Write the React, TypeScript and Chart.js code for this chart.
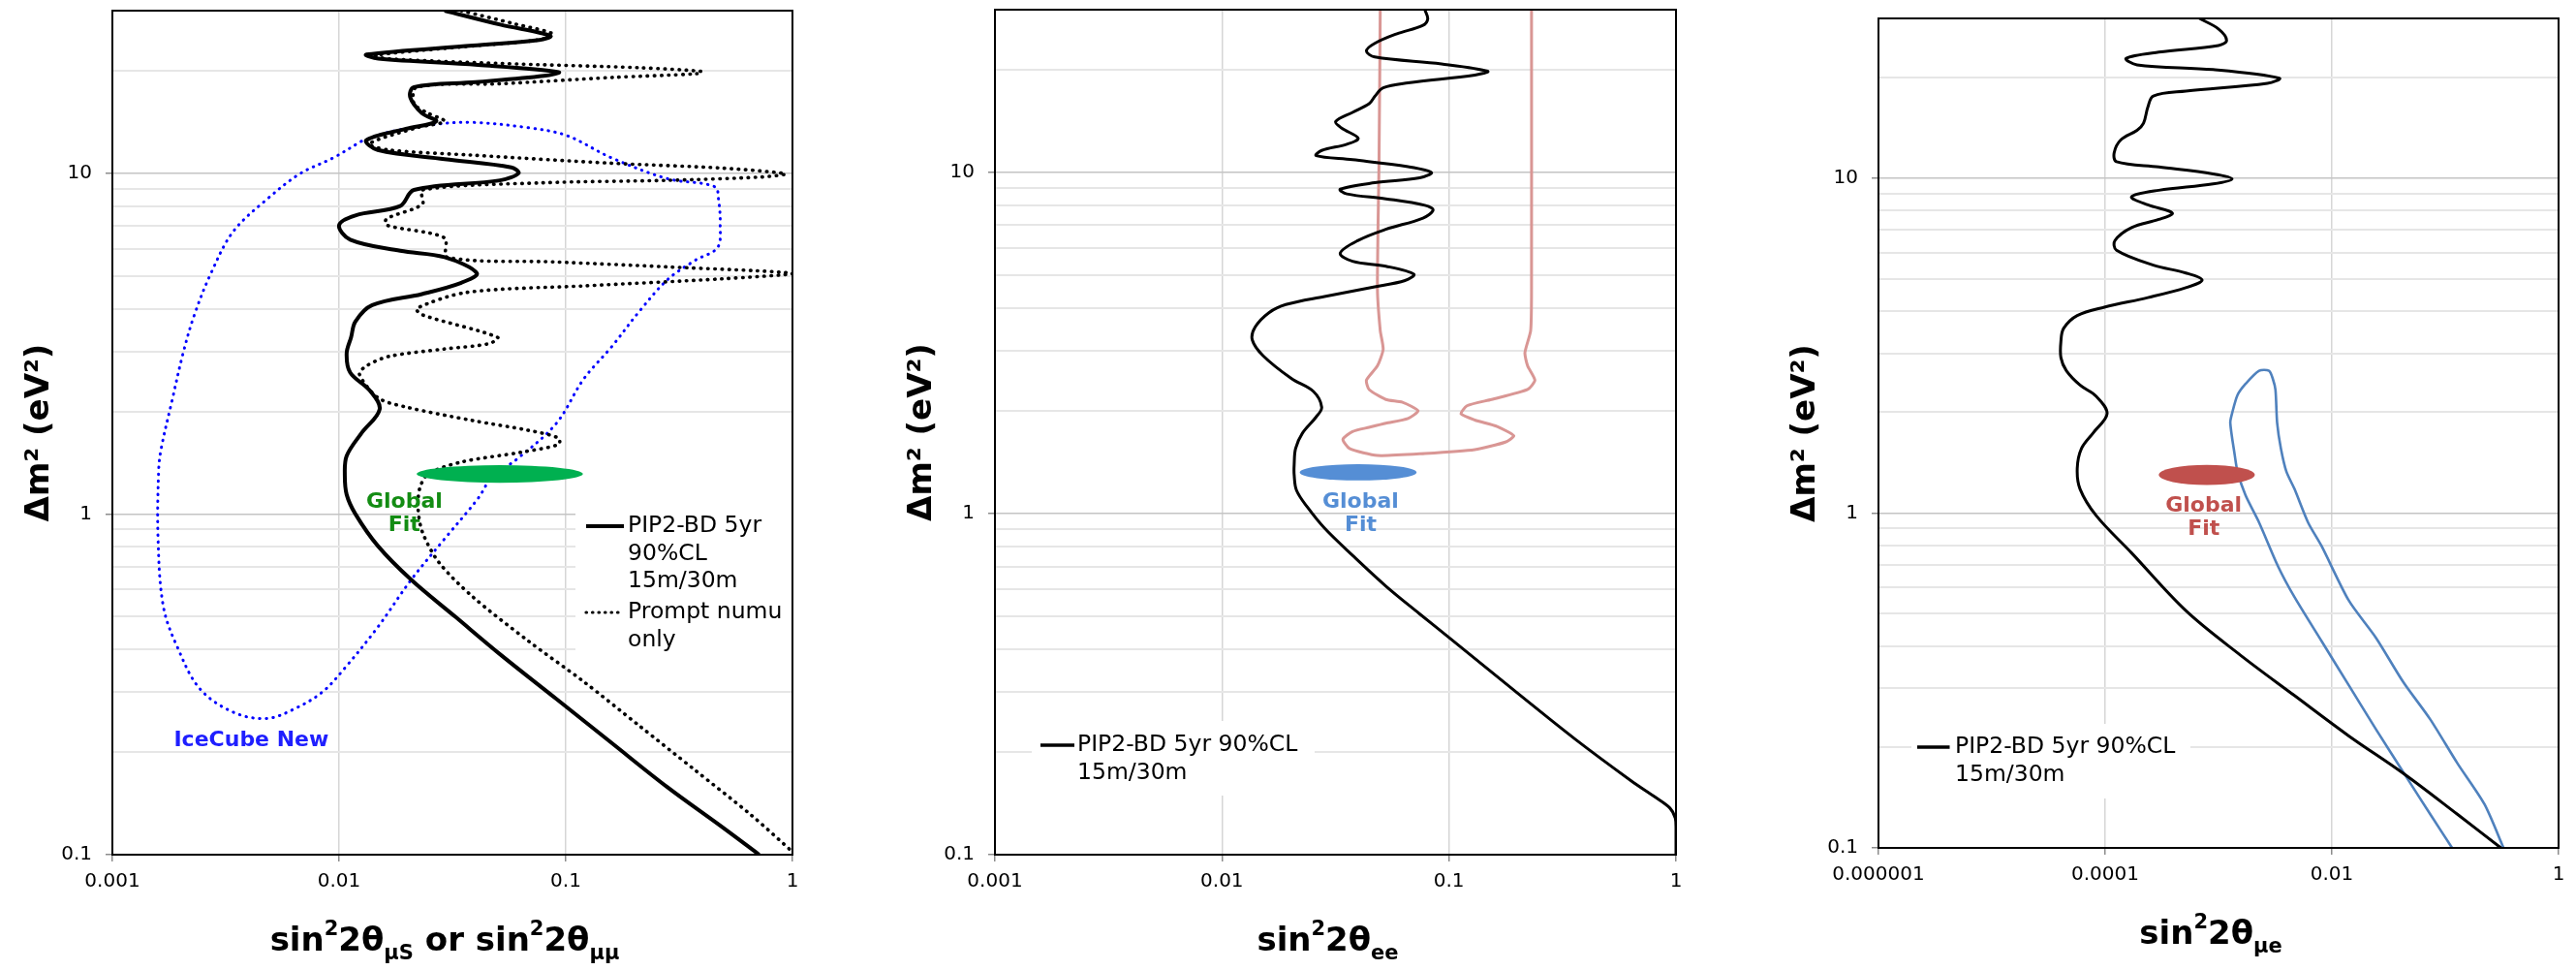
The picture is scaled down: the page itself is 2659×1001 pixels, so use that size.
import React, { useEffect, useRef } from "react";
import { Chart, registerables } from "chart.js";

Chart.register(...registerables);

type Pt = [number, number];

// ---------------- axis values ----------------
const Y_MIN = 0.1;
const Y_MAX = 30;
const Y_GRID_VALUES = [0.1, 0.2, 0.3, 0.4, 0.5, 0.6, 0.7, 0.8, 0.9, 1, 2, 3, 4, 5, 6, 7, 8, 9, 10, 20, 30];
const Y_TICK_VALUES = [0.1, 1, 10];
const Y_TICK_LABELS = ["0.1", "1", "10"];
const Y_TITLE = "Δm² (eV²)";

const X_TICKS_DECADE = [0.001, 0.01, 0.1, 1];
const X_LABELS_DECADE = ["0.001", "0.01", "0.1", "1"];
const X_TICKS_MUE = [0.000001, 0.0001, 0.01, 1];
const X_LABELS_MUE = ["0.000001", "0.0001", "0.01", "1"];

// ---------------- panel 1 : numu disappearance ----------------
const MU_PIP2: Pt[] = [
  [0.0292, 30], [0.0514, 27.3], [0.0855, 25.3], [0.0764, 24.6], [0.0388, 23.7], [0.0132, 22.3],
  [0.0149, 21.7], [0.041, 20.8], [0.093, 19.8], [0.08, 19.3], [0.04, 18.5], [0.0214, 17.9],
  [0.0206, 16.7], [0.0232, 15.0], [0.0268, 14.2], [0.0197, 13.5], [0.0132, 12.5], [0.0148, 11.7],
  [0.0292, 11.0], [0.0575, 10.4], [0.0619, 10.0], [0.0513, 9.53], [0.0214, 8.93], [0.0186, 8.01],
  [0.0118, 7.52], [0.01, 7.04], [0.0112, 6.38], [0.0186, 5.92], [0.0292, 5.67], [0.0405, 5.09],
  [0.0346, 4.77], [0.0232, 4.42], [0.014, 4.1], [0.0118, 3.67], [0.0113, 3.3], [0.0108, 2.96],
  [0.0112, 2.6], [0.0136, 2.31], [0.0151, 2.03], [0.0125, 1.72], [0.0108, 1.48], [0.0106, 1.3],
  [0.0108, 1.14], [0.0118, 1.0], [0.0148, 0.807], [0.0208, 0.641], [0.0327, 0.498], [0.0514, 0.387],
  [0.0906, 0.287], [0.159, 0.213], [0.28, 0.158], [0.494, 0.12], [0.713, 0.1],
];

const MU_PROMPT: Pt[] = [
  [0.0346, 30], [0.06, 27.4], [0.088, 25.6], [0.075, 24.6], [0.035, 23.5], [0.0145, 22.2],
  [0.016, 21.7], [0.0514, 21.0], [0.211, 20.4], [0.398, 19.9], [0.38, 19.6], [0.159, 19.1],
  [0.0514, 18.3], [0.022, 17.9], [0.0214, 16.0], [0.0247, 15.0], [0.0292, 14.2], [0.022, 13.6],
  [0.0136, 12.2], [0.0166, 11.7], [0.0388, 11.3], [0.159, 10.7], [0.493, 10.35], [0.93, 9.96],
  [0.733, 9.75], [0.281, 9.53], [0.0785, 9.37], [0.0233, 8.93], [0.0233, 8.11], [0.0162, 7.35],
  [0.0162, 7.04], [0.0292, 6.46], [0.03, 5.67], [0.0906, 5.49], [0.281, 5.31], [1.0, 5.08],
  [0.493, 4.9], [0.12, 4.67], [0.0366, 4.47], [0.022, 4.01], [0.0233, 3.84], [0.05, 3.3],
  [0.0458, 3.16], [0.0292, 3.05], [0.0166, 2.9], [0.0132, 2.72], [0.0123, 2.57], [0.0149, 2.19],
  [0.0197, 2.06], [0.0388, 1.88], [0.0683, 1.76], [0.093, 1.67], [0.093, 1.6], [0.0645, 1.52],
  [0.0346, 1.42], [0.0247, 1.31], [0.0227, 1.19], [0.0223, 1.04], [0.0233, 0.885], [0.0276, 0.72],
  [0.0388, 0.572], [0.0683, 0.424], [0.12, 0.322], [0.211, 0.239], [0.372, 0.177], [0.655, 0.131],
  [1.0, 0.102],
];

const ICECUBE: Pt[] = [
  [0.0125, 12.4], [0.0166, 13.2], [0.0261, 13.9], [0.0388, 14.1], [0.0683, 13.6], [0.101, 12.9],
  [0.159, 11.1], [0.281, 9.64], [0.454, 9.13], [0.472, 8.37], [0.48, 7.04], [0.467, 6.05],
  [0.372, 5.55], [0.281, 4.87], [0.211, 3.93], [0.159, 3.09], [0.12, 2.49], [0.0906, 1.84],
  [0.061, 1.45], [0.0472, 1.28], [0.041, 1.11], [0.0292, 0.845], [0.0208, 0.641], [0.0148, 0.465],
  [0.0106, 0.353], [0.00843, 0.3], [0.00636, 0.268], [0.00479, 0.251], [0.00341, 0.262],
  [0.00243, 0.307], [0.00194, 0.405], [0.00168, 0.533], [0.00159, 0.845], [0.0016, 1.34],
  [0.00164, 1.55], [0.00183, 2.14], [0.00205, 2.96], [0.0023, 3.84], [0.00272, 5.08],
  [0.00341, 6.74], [0.00479, 8.37], [0.00671, 9.96], [0.00943, 11.1], [0.0125, 12.4],
];

// ---------------- panel 2 : nue disappearance ----------------
const EE_PIP2: Pt[] = [
  [0.0783, 30], [0.0806, 28.2], [0.0768, 27.0], [0.059, 25.5], [0.0471, 23.9], [0.0433, 22.7],
  [0.0471, 21.8], [0.0927, 20.8], [0.148, 19.8], [0.13, 19.3], [0.066, 18.3], [0.0513, 17.7],
  [0.0471, 16.7], [0.0445, 15.9], [0.0376, 15.0], [0.0317, 14.1], [0.0336, 13.5], [0.0398, 12.6],
  [0.0355, 12.1], [0.0275, 11.6], [0.026, 11.2], [0.0376, 10.9], [0.066, 10.4], [0.0837, 10.0],
  [0.0743, 9.64], [0.0471, 9.33], [0.0332, 8.93], [0.0355, 8.65], [0.0527, 8.37], [0.0783, 8.01],
  [0.0851, 7.76], [0.0768, 7.35], [0.0527, 6.81], [0.0398, 6.32], [0.0332, 5.8], [0.0376, 5.49],
  [0.0527, 5.31], [0.07, 5.03], [0.064, 4.82], [0.0471, 4.62], [0.0283, 4.33], [0.0191, 4.1],
  [0.0161, 3.88], [0.014, 3.52], [0.0136, 3.23], [0.0152, 2.9], [0.0202, 2.49], [0.0253, 2.28],
  [0.0275, 2.05], [0.026, 1.92], [0.0226, 1.72], [0.0211, 1.55], [0.0208, 1.39], [0.0208, 1.3],
  [0.0213, 1.17], [0.0239, 1.04], [0.0283, 0.906], [0.0376, 0.754], [0.0527, 0.613], [0.074, 0.509],
  [0.104, 0.424], [0.205, 0.294], [0.36, 0.218], [0.632, 0.165], [0.815, 0.147], [0.94, 0.137],
  [0.993, 0.128], [1.0, 0.12], [1.0, 0.1],
];

const EE_REGION: Pt[] = [
  [0.0498, 30], [0.0492, 10.9], [0.0484, 4.56], [0.0498, 3.44], [0.0513, 3.03], [0.0484, 2.71],
  [0.0433, 2.46], [0.0445, 2.31], [0.0527, 2.16], [0.0624, 2.12], [0.0731, 2.0], [0.066, 1.9],
  [0.0527, 1.84], [0.0445, 1.79], [0.0376, 1.74], [0.0341, 1.65], [0.0365, 1.55], [0.0484, 1.48],
  [0.0783, 1.5], [0.13, 1.54], [0.177, 1.62], [0.193, 1.69], [0.163, 1.8], [0.13, 1.88],
  [0.113, 1.96], [0.12, 2.07], [0.154, 2.16], [0.222, 2.31], [0.239, 2.46], [0.222, 2.71],
  [0.216, 2.96], [0.229, 3.44], [0.231, 4.56], [0.231, 30],
];

// ---------------- panel 3 : numu -> nue appearance ----------------
const MUE_PIP2: Pt[] = [
  [0.000679, 30], [0.000998, 27.9], [0.001178, 25.8], [0.000998, 24.9], [0.000297, 23.8],
  [0.000153, 22.8], [0.000191, 21.8], [0.000895, 21.1], [0.00344, 19.9], [0.0027, 19.2],
  [0.000515, 18.2], [0.000266, 17.6], [0.000238, 16.3], [0.000218, 14.6], [0.000191, 13.9],
  [0.000137, 13.0], [0.00012, 11.9], [0.000126, 11.2], [0.000297, 10.8], [0.000895, 10.3],
  [0.001316, 9.95], [0.000895, 9.62], [0.000297, 9.2], [0.000171, 8.8], [0.000238, 8.32],
  [0.000391, 7.87], [0.000297, 7.53], [0.000171, 7.12], [0.000122, 6.51], [0.000126, 6.09],
  [0.000266, 5.5], [0.000515, 5.21], [0.000717, 4.96], [0.000515, 4.71], [0.000238, 4.4],
  [0.0000984, 4.12], [0.0000567, 3.89], [0.000043, 3.56], [0.0000407, 3.26], [0.0000407, 2.91],
  [0.0000455, 2.66], [0.00006, 2.41], [0.0000834, 2.23], [0.000104, 1.98], [0.0000789, 1.74],
  [0.0000619, 1.56], [0.0000567, 1.36], [0.00006, 1.18], [0.0000834, 0.982], [0.000171, 0.76],
  [0.000515, 0.511], [0.00155, 0.377], [0.00468, 0.285], [0.0141, 0.216], [0.0426, 0.167],
  [0.128, 0.126], [0.31, 0.1],
];

const MUE_REGION: Pt[] = [
  [0.115, 0.1], [0.0738, 0.126], [0.0475, 0.159], [0.0245, 0.226], [0.0141, 0.306], [0.00813, 0.414],
  [0.00468, 0.561], [0.00336, 0.692], [0.00228, 0.937], [0.00173, 1.13], [0.00147, 1.33],
  [0.00139, 1.49], [0.00127, 1.86], [0.00132, 1.99], [0.00147, 2.25], [0.00173, 2.43],
  [0.00228, 2.66], [0.00279, 2.66], [0.00301, 2.52], [0.00318, 2.33], [0.00329, 1.86],
  [0.00355, 1.56], [0.00397, 1.33], [0.00468, 1.18], [0.00617, 0.937], [0.00813, 0.796],
  [0.0141, 0.548], [0.0245, 0.424], [0.0426, 0.313], [0.0738, 0.242], [0.128, 0.179],
  [0.222, 0.135], [0.327, 0.1],
];

// global-fit ellipses: [xMin, xMax, yMin, yMax]
const FIT_MU = [0.022, 0.119, 1.235, 1.39];
const FIT_EE = [0.022, 0.072, 1.25, 1.395];
const FIT_MUE = [0.000297, 0.00209, 1.213, 1.393];

// ---------------- rendering ----------------
const FONT = '"DejaVu Sans", Verdana, sans-serif';
const H = 1001;

type Series = { points: Pt[]; color: string; width: number; dash: number[]; tension: number };
type TitlePart = { t: string; k: "n" | "sup" | "sub" };
type Spec = {
  canvasLeft: number; canvasWidth: number;
  areaLeft: number; areaRight: number; areaTop: number; areaBottom: number;
  xMin: number; xTicks: number[]; xLabels: string[];
  series: Series[];
  xTitle: TitlePart[];
  ellipse: { v: number[]; color: string };
  labels: { x: number; y: number; lines: string[]; color: string; size: number; lh: number }[];
  legend: {
    box: number[]; sample: number[]; textX: number; size: number; lh: number;
    items: { y: number; color: string; width: number; dash: number[]; lines: string[] }[];
  };
};

const near = (a: number, b: number) => Math.abs(Math.log10(a) - Math.log10(b)) < 1e-6;

function makePlugin(s: Spec) {
  return {
    id: "panelDecor",
    afterDatasetsDraw(chart: any) {
      const { ctx, chartArea: a, scales } = chart;
      const xs = scales.x, ys = scales.y;
      ctx.save();
      // ellipse
      const [ex0, ex1, ey0, ey1] = s.ellipse.v;
      const px0 = xs.getPixelForValue(ex0), px1 = xs.getPixelForValue(ex1);
      const py0 = ys.getPixelForValue(ey0), py1 = ys.getPixelForValue(ey1);
      ctx.beginPath();
      ctx.ellipse((px0 + px1) / 2, (py0 + py1) / 2, Math.abs(px1 - px0) / 2, Math.abs(py1 - py0) / 2, 0, 0, Math.PI * 2);
      ctx.fillStyle = s.ellipse.color;
      ctx.fill();
      // labels
      for (const l of s.labels) {
        ctx.font = `bold ${l.size}px ${FONT}`;
        ctx.fillStyle = l.color;
        ctx.textAlign = "center";
        ctx.textBaseline = "middle";
        const cx = xs.getPixelForValue(l.x), cy = ys.getPixelForValue(l.y);
        const n = l.lines.length;
        l.lines.forEach((t, i) => ctx.fillText(t, cx, cy + (i - (n - 1) / 2) * l.lh));
      }
      // legend
      const lg = s.legend;
      ctx.fillStyle = "#ffffff";
      ctx.fillRect(a.left + lg.box[0], a.top + lg.box[1], lg.box[2] - lg.box[0], lg.box[3] - lg.box[1]);
      ctx.font = `${lg.size}px ${FONT}`;
      ctx.textAlign = "left";
      ctx.textBaseline = "middle";
      for (const it of lg.items) {
        const y = a.top + it.y;
        ctx.beginPath();
        ctx.moveTo(a.left + lg.sample[0], y);
        ctx.lineTo(a.left + lg.sample[1], y);
        ctx.strokeStyle = it.color;
        ctx.lineWidth = it.width;
        ctx.setLineDash(it.dash);
        ctx.lineCap = it.dash.length ? "round" : "butt";
        ctx.stroke();
        ctx.setLineDash([]);
        ctx.fillStyle = "#000000";
        it.lines.forEach((t, i) => ctx.fillText(t, a.left + lg.textX, y + i * lg.lh));
      }
      ctx.restore();
    },
    afterDraw(chart: any) {
      const { ctx, chartArea: a } = chart;
      ctx.save();
      // plot frame
      ctx.strokeStyle = "#000000";
      ctx.lineWidth = 2;
      ctx.strokeRect(a.left, a.top, a.right - a.left, a.bottom - a.top);
      // y title
      ctx.save();
      ctx.translate(a.left - 75, (a.top + a.bottom) / 2);
      ctx.rotate(-Math.PI / 2);
      ctx.font = `bold 34px ${FONT}`;
      ctx.fillStyle = "#000000";
      ctx.textAlign = "center";
      ctx.textBaseline = "middle";
      ctx.fillText(Y_TITLE, 0, 0);
      ctx.restore();
      // x title with super/subscripts
      const fontFor = (k: string) => (k === "n" ? `bold 34px ${FONT}` : `bold 21px ${FONT}`);
      let total = 0;
      const widths = s.xTitle.map((p) => {
        ctx.font = fontFor(p.k);
        const w = ctx.measureText(p.t).width;
        total += w;
        return w;
      });
      let x = (a.left + a.right) / 2 - 8 - total / 2;
      const base = a.bottom + 99;
      ctx.textAlign = "left";
      ctx.textBaseline = "alphabetic";
      ctx.fillStyle = "#000000";
      s.xTitle.forEach((p, i) => {
        ctx.font = fontFor(p.k);
        const dy = p.k === "sup" ? -16 : p.k === "sub" ? 9 : 0;
        ctx.fillText(p.t, x, base + dy);
        x += widths[i];
      });
      ctx.restore();
    },
  };
}

function makeConfig(s: Spec): any {
  return {
    type: "scatter",
    data: {
      datasets: s.series.map((se) => ({
        data: se.points.map(([x, y]) => ({ x, y })),
        showLine: true,
        borderColor: se.color,
        backgroundColor: se.color,
        borderWidth: se.width,
        borderDash: se.dash,
        borderCapStyle: se.dash.length ? "round" : "butt",
        borderJoinStyle: "round",
        pointRadius: 0,
        pointHoverRadius: 0,
        tension: se.tension,
        fill: false,
      })),
    },
    options: {
      animation: false,
      responsive: false,
      devicePixelRatio: 1,
      events: [],
      layout: { padding: { left: 0, top: s.areaTop, right: s.canvasWidth - s.areaRight, bottom: 0 } },
      plugins: { legend: { display: false }, tooltip: { enabled: false } },
      scales: {
        x: {
          type: "logarithmic",
          position: "bottom",
          min: s.xMin,
          max: 1,
          afterBuildTicks: (sc: any) => {
            sc.ticks = s.xTicks.map((v) => ({ value: v }));
          },
          afterFit: (sc: any) => {
            sc.height = H - s.areaBottom;
            sc.paddingLeft = 0;
            sc.paddingRight = 0;
          },
          ticks: {
            autoSkip: false,
            maxRotation: 0,
            minRotation: 0,
            padding: 9,
            color: "#000000",
            font: { family: FONT, size: 20 },
            callback: (v: number) => {
              const i = s.xTicks.findIndex((t) => near(t, v));
              return i >= 0 ? s.xLabels[i] : "";
            },
          },
          grid: { color: "#d6d6d6", lineWidth: 1.5, tickLength: 7, tickColor: "#8c8c8c" },
          border: { display: false },
        },
        y: {
          type: "logarithmic",
          position: "left",
          min: Y_MIN,
          max: Y_MAX,
          afterBuildTicks: (sc: any) => {
            sc.ticks = Y_GRID_VALUES.map((v) => ({ value: v }));
          },
          afterFit: (sc: any) => {
            sc.width = s.areaLeft;
            sc.paddingTop = 0;
            sc.paddingBottom = 0;
          },
          ticks: {
            autoSkip: false,
            padding: 14,
            color: "#000000",
            font: { family: FONT, size: 20 },
            callback: (v: number) => {
              const i = Y_TICK_VALUES.findIndex((t) => near(t, v));
              return i >= 0 ? Y_TICK_LABELS[i] : "";
            },
          },
          grid: {
            color: (c: any) => (Y_TICK_VALUES.some((t) => near(t, c.tick.value)) ? "#c4c4c4" : "#e6e6e6"),
            lineWidth: (c: any) => (Y_TICK_VALUES.some((t) => near(t, c.tick.value)) ? 1.5 : 2),
            tickLength: 7,
            tickColor: (c: any) => (Y_TICK_VALUES.some((t) => near(t, c.tick.value)) ? "#8c8c8c" : "rgba(0,0,0,0)"),
          },
          border: { display: false },
        },
      },
    },
    plugins: [makePlugin(s)],
  };
}

const LEGEND_MAIN = ["PIP2-BD 5yr", "90%CL", "15m/30m"];
const LEGEND_PROMPT = ["Prompt numu", "only"];
const LEGEND_SHORT = ["PIP2-BD 5yr 90%CL", "15m/30m"];

const SPECS: Spec[] = [
  {
    canvasLeft: 0, canvasWidth: 890, areaLeft: 116, areaRight: 818, areaTop: 11, areaBottom: 882,
    xMin: 0.001, xTicks: X_TICKS_DECADE, xLabels: X_LABELS_DECADE,
    series: [
      { points: MU_PIP2, color: "#000000", width: 4, dash: [], tension: 0.35 },
      { points: MU_PROMPT, color: "#000000", width: 3.6, dash: [0.5, 6.8], tension: 0.3 },
      { points: ICECUBE, color: "#0000ff", width: 3, dash: [0.5, 6.5], tension: 0.35 },
    ],
    xTitle: [
      { t: "sin", k: "n" }, { t: "2", k: "sup" }, { t: "2θ", k: "n" }, { t: "μS", k: "sub" },
      { t: " or sin", k: "n" }, { t: "2", k: "sup" }, { t: "2θ", k: "n" }, { t: "μμ", k: "sub" },
    ],
    ellipse: { v: FIT_MU, color: "#00b050" },
    labels: [
      { x: 0.0194, y: 1.0, lines: ["Global", "Fit"], color: "#138c13", size: 22, lh: 24 },
      { x: 0.0041, y: 0.216, lines: ["IceCube New"], color: "#1f1fff", size: 22, lh: 24 },
    ],
    legend: {
      box: [478, 509, 702, 684], sample: [489, 528], textX: 532, size: 23.5, lh: 28.5,
      items: [
        { y: 532, color: "#000000", width: 4, dash: [], lines: LEGEND_MAIN },
        { y: 621, color: "#000000", width: 3.2, dash: [0.5, 6], lines: LEGEND_PROMPT },
      ],
    },
  },
  {
    canvasLeft: 890, canvasWidth: 880, areaLeft: 137, areaRight: 840, areaTop: 10, areaBottom: 882,
    xMin: 0.001, xTicks: X_TICKS_DECADE, xLabels: X_LABELS_DECADE,
    series: [
      { points: EE_PIP2, color: "#000000", width: 3, dash: [], tension: 0.35 },
      { points: EE_REGION, color: "#d99694", width: 3, dash: [], tension: 0.2 },
    ],
    xTitle: [{ t: "sin", k: "n" }, { t: "2", k: "sup" }, { t: "2θ", k: "n" }, { t: "ee", k: "sub" }],
    ellipse: { v: FIT_EE, color: "#558ed5" },
    labels: [{ x: 0.0408, y: 1.0, lines: ["Global", "Fit"], color: "#558ed5", size: 22, lh: 24 }],
    legend: {
      box: [38, 734, 330, 811], sample: [47, 82], textX: 85, size: 23.5, lh: 28.5,
      items: [{ y: 759, color: "#000000", width: 3.5, dash: [], lines: LEGEND_SHORT }],
    },
  },
  {
    canvasLeft: 1770, canvasWidth: 889, areaLeft: 169, areaRight: 871, areaTop: 19, areaBottom: 875,
    xMin: 0.000001, xTicks: X_TICKS_MUE, xLabels: X_LABELS_MUE,
    series: [
      { points: MUE_PIP2, color: "#000000", width: 3, dash: [], tension: 0.35 },
      { points: MUE_REGION, color: "#4f81bd", width: 2.6, dash: [], tension: 0.25 },
    ],
    xTitle: [{ t: "sin", k: "n" }, { t: "2", k: "sup" }, { t: "2θ", k: "n" }, { t: "μe", k: "sub" }],
    ellipse: { v: FIT_MUE, color: "#c0504d" },
    labels: [{ x: 0.00074, y: 0.968, lines: ["Global", "Fit"], color: "#c0504d", size: 22, lh: 24 }],
    legend: {
      box: [34, 728, 322, 805], sample: [40, 73.5], textX: 79, size: 23.5, lh: 28.5,
      items: [{ y: 752, color: "#000000", width: 3.5, dash: [], lines: LEGEND_SHORT }],
    },
  },
];

function Panel({ spec }: { spec: Spec }) {
  const ref = useRef<HTMLCanvasElement>(null);
  useEffect(() => {
    const chart = new Chart(ref.current as HTMLCanvasElement, makeConfig(spec));
    return () => chart.destroy();
  }, [spec]);
  return (
    <canvas
      ref={ref}
      width={spec.canvasWidth}
      height={H}
      style={{ position: "absolute", left: spec.canvasLeft, top: 0, width: spec.canvasWidth, height: H }}
    />
  );
}

export default function App() {
  return (
    <div style={{ position: "fixed", left: 0, top: 0, width: 2659, height: H, background: "#ffffff", overflow: "hidden" }}>
      {SPECS.map((s, i) => (
        <Panel key={i} spec={s} />
      ))}
    </div>
  );
}
